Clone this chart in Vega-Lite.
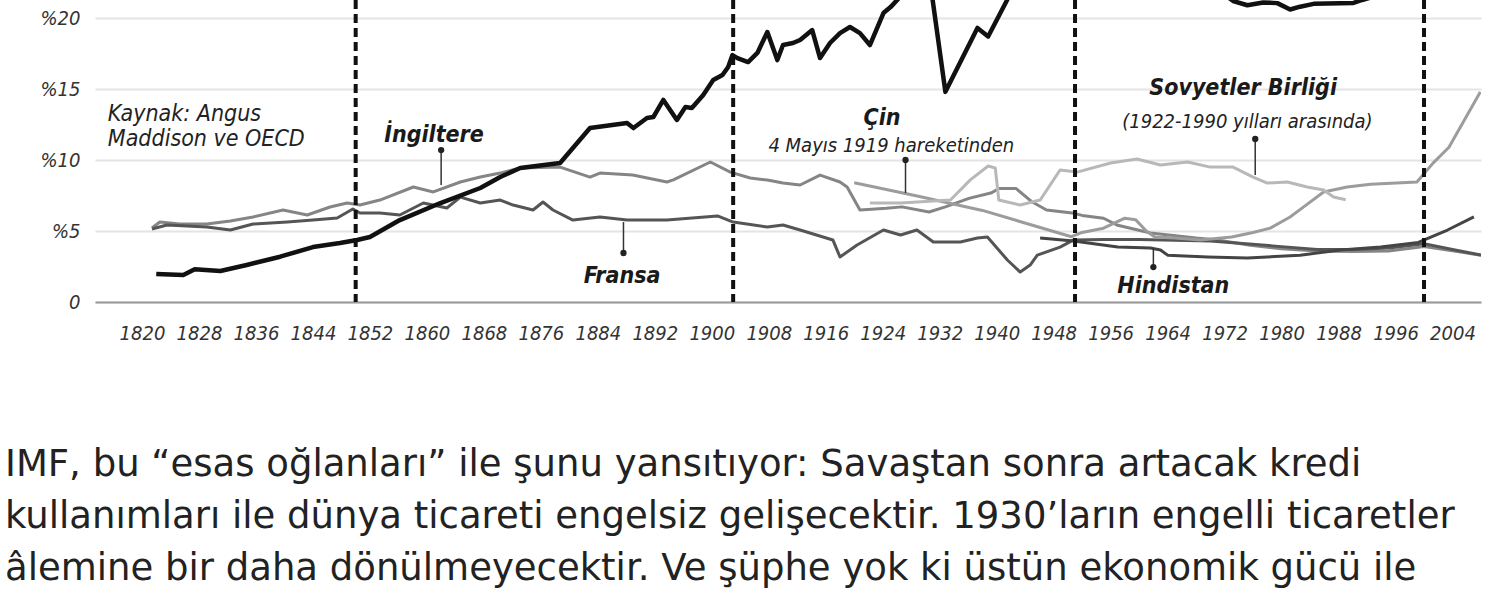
{
  "$schema": "https://vega.github.io/schema/vega-lite/v6.json",
  "width": 1386,
  "height": 302,
  "autosize": {"type": "none"},
  "padding": {"left": 95, "top": 0, "right": 29, "bottom": 297},
  "background": "white",
  "config": {"view": {"stroke": null}, "font": "'DejaVu Sans Condensed', Roboto, sans-serif"},
  "title": {
    "text": ["IMF, bu “esas oğlanları” ile şunu yansıtıyor: Savaştan sonra artacak kredi", "kullanımları ile dünya ticareti engelsiz gelişecektir. 1930’ların engelli ticaretler", "âlemine bir daha dönülmeyecektir. Ve şüphe yok ki üstün ekonomik gücü ile"],
    "orient": "bottom", "anchor": "start", "frame": "group", "align": "left", "baseline": "top",
    "dx": -90, "offset": 104, "font": "DejaVu Sans", "fontSize": 37, "fontWeight": 400, "color": "#222222", "lineHeight": 52
  },
  "datasets": {
    "series": [
      {"country": "ABD", "year": 1822, "share": 1.97}, {"country": "ABD", "year": 1825.8, "share": 1.9}, {"country": "ABD", "year": 1827.4, "share": 2.3}, {"country": "ABD", "year": 1831, "share": 2.18}, {"country": "ABD", "year": 1834.7, "share": 2.61}, {"country": "ABD", "year": 1839.4, "share": 3.19}, {"country": "ABD", "year": 1844, "share": 3.87}, {"country": "ABD", "year": 1847.8, "share": 4.15}, {"country": "ABD", "year": 1850.2, "share": 4.37}, {"country": "ABD", "year": 1852, "share": 4.58}, {"country": "ABD", "year": 1856.2, "share": 5.77}, {"country": "ABD", "year": 1861.9, "share": 6.97}, {"country": "ABD", "year": 1867.5, "share": 8.03}, {"country": "ABD", "year": 1870.3, "share": 8.8}, {"country": "ABD", "year": 1873.1, "share": 9.44}, {"country": "ABD", "year": 1878.7, "share": 9.79}, {"country": "ABD", "year": 1882.9, "share": 12.25}, {"country": "ABD", "year": 1888.1, "share": 12.61}, {"country": "ABD", "year": 1889, "share": 12.25}, {"country": "ABD", "year": 1890.9, "share": 12.96}, {"country": "ABD", "year": 1891.8, "share": 13.03}, {"country": "ABD", "year": 1893.2, "share": 14.23}, {"country": "ABD", "year": 1895.1, "share": 12.82}, {"country": "ABD", "year": 1896.3, "share": 13.73}, {"country": "ABD", "year": 1897.2, "share": 13.66}, {"country": "ABD", "year": 1898.8, "share": 14.58}, {"country": "ABD", "year": 1900.2, "share": 15.63}, {"country": "ABD", "year": 1901.5, "share": 15.99}, {"country": "ABD", "year": 1902.3, "share": 16.55}, {"country": "ABD", "year": 1902.9, "share": 17.39}, {"country": "ABD", "year": 1903.6, "share": 17.18}, {"country": "ABD", "year": 1905.1, "share": 16.9}, {"country": "ABD", "year": 1906.4, "share": 17.54}, {"country": "ABD", "year": 1907.8, "share": 19.01}, {"country": "ABD", "year": 1909.2, "share": 17.04}, {"country": "ABD", "year": 1910, "share": 18.1}, {"country": "ABD", "year": 1911.4, "share": 18.24}, {"country": "ABD", "year": 1912.4, "share": 18.45}, {"country": "ABD", "year": 1914.1, "share": 19.15}, {"country": "ABD", "year": 1915.2, "share": 17.18}, {"country": "ABD", "year": 1916.6, "share": 18.24}, {"country": "ABD", "year": 1918, "share": 18.94}, {"country": "ABD", "year": 1919.4, "share": 19.37}, {"country": "ABD", "year": 1920.8, "share": 18.94}, {"country": "ABD", "year": 1922.2, "share": 18.1}, {"country": "ABD", "year": 1924.1, "share": 20.35}, {"country": "ABD", "year": 1925.1, "share": 20.77}, {"country": "ABD", "year": 1927, "share": 21.8}, {"country": "ABD", "year": 1929, "share": 22.7}, {"country": "ABD", "year": 1931, "share": 21.3}, {"country": "ABD", "year": 1932.8, "share": 14.8}, {"country": "ABD", "year": 1937.3, "share": 19.3}, {"country": "ABD", "year": 1938.8, "share": 18.7}, {"country": "ABD", "year": 1941.5, "share": 21.3}, {"country": "ABD", "year": 1944, "share": 27.5}, {"country": "ABD", "year": 1950, "share": 27.3}, {"country": "ABD", "year": 1960, "share": 24.3}, {"country": "ABD", "year": 1970, "share": 22.4}, {"country": "ABD", "year": 1973.2, "share": 21.2}, {"country": "ABD", "year": 1975.2, "share": 20.9}, {"country": "ABD", "year": 1977.4, "share": 21.1}, {"country": "ABD", "year": 1979.4, "share": 21.05}, {"country": "ABD", "year": 1981.2, "share": 20.6}, {"country": "ABD", "year": 1982.6, "share": 20.8}, {"country": "ABD", "year": 1984.5, "share": 21.0}, {"country": "ABD", "year": 1990.1, "share": 21.06}, {"country": "ABD", "year": 1991.3, "share": 21.27}, {"country": "ABD", "year": 1995, "share": 21.8}, {"country": "ABD", "year": 2000, "share": 22.5}, {"country": "ABD", "year": 2008, "share": 22.0},

      {"country": "İngiltere", "year": 1821.4, "share": 5.21}, {"country": "İngiltere", "year": 1822.5, "share": 5.63}, {"country": "İngiltere", "year": 1825.3, "share": 5.49}, {"country": "İngiltere", "year": 1829.1, "share": 5.49}, {"country": "İngiltere", "year": 1832.4, "share": 5.7}, {"country": "İngiltere", "year": 1835.6, "share": 5.99}, {"country": "İngiltere", "year": 1839.8, "share": 6.48}, {"country": "İngiltere", "year": 1843.2, "share": 6.13}, {"country": "İngiltere", "year": 1846.4, "share": 6.69}, {"country": "İngiltere", "year": 1848.8, "share": 6.97}, {"country": "İngiltere", "year": 1850.6, "share": 6.83}, {"country": "İngiltere", "year": 1853.4, "share": 7.18}, {"country": "İngiltere", "year": 1858.1, "share": 8.1}, {"country": "İngiltere", "year": 1860.9, "share": 7.75}, {"country": "İngiltere", "year": 1864.7, "share": 8.45}, {"country": "İngiltere", "year": 1867.5, "share": 8.8}, {"country": "İngiltere", "year": 1870.3, "share": 9.08}, {"country": "İngiltere", "year": 1873.1, "share": 9.44}, {"country": "İngiltere", "year": 1878.7, "share": 9.5}, {"country": "İngiltere", "year": 1882.9, "share": 8.8}, {"country": "İngiltere", "year": 1884.3, "share": 9.08}, {"country": "İngiltere", "year": 1888.9, "share": 8.94}, {"country": "İngiltere", "year": 1893.7, "share": 8.45}, {"country": "İngiltere", "year": 1894.6, "share": 8.6}, {"country": "İngiltere", "year": 1899.8, "share": 9.86}, {"country": "İngiltere", "year": 1902.6, "share": 9.15}, {"country": "İngiltere", "year": 1905.4, "share": 8.73}, {"country": "İngiltere", "year": 1907.8, "share": 8.59}, {"country": "İngiltere", "year": 1910, "share": 8.38}, {"country": "İngiltere", "year": 1912.4, "share": 8.24}, {"country": "İngiltere", "year": 1915.2, "share": 8.94}, {"country": "İngiltere", "year": 1918, "share": 8.45}, {"country": "İngiltere", "year": 1919, "share": 8.1}, {"country": "İngiltere", "year": 1920.8, "share": 6.48}, {"country": "İngiltere", "year": 1924.5, "share": 6.6}, {"country": "İngiltere", "year": 1926.7, "share": 6.7}, {"country": "İngiltere", "year": 1930.5, "share": 6.34}, {"country": "İngiltere", "year": 1932.8, "share": 6.7}, {"country": "İngiltere", "year": 1936.1, "share": 7.3}, {"country": "İngiltere", "year": 1939.3, "share": 7.7}, {"country": "İngiltere", "year": 1940.3, "share": 8.0}, {"country": "İngiltere", "year": 1942.7, "share": 8.0}, {"country": "İngiltere", "year": 1945, "share": 7.04}, {"country": "İngiltere", "year": 1947, "share": 6.48}, {"country": "İngiltere", "year": 1950.6, "share": 6.27}, {"country": "İngiltere", "year": 1952, "share": 6.1}, {"country": "İngiltere", "year": 1955, "share": 5.9}, {"country": "İngiltere", "year": 1957, "share": 5.4}, {"country": "İngiltere", "year": 1961.6, "share": 4.86}, {"country": "İngiltere", "year": 1968, "share": 4.5}, {"country": "İngiltere", "year": 1971, "share": 4.37}, {"country": "İngiltere", "year": 1975.6, "share": 4.0}, {"country": "İngiltere", "year": 1980, "share": 3.75}, {"country": "İngiltere", "year": 1985, "share": 3.6}, {"country": "İngiltere", "year": 1990, "share": 3.55}, {"country": "İngiltere", "year": 1995, "share": 3.6}, {"country": "İngiltere", "year": 2000, "share": 3.9}, {"country": "İngiltere", "year": 2004, "share": 3.6}, {"country": "İngiltere", "year": 2008, "share": 3.3},

      {"country": "Fransa", "year": 1821.4, "share": 5.14}, {"country": "Fransa", "year": 1823.5, "share": 5.42}, {"country": "Fransa", "year": 1829.1, "share": 5.28}, {"country": "Fransa", "year": 1832.4, "share": 5.07}, {"country": "Fransa", "year": 1835.6, "share": 5.49}, {"country": "Fransa", "year": 1840.4, "share": 5.63}, {"country": "Fransa", "year": 1844, "share": 5.77}, {"country": "Fransa", "year": 1847.4, "share": 5.92}, {"country": "Fransa", "year": 1849.6, "share": 6.55}, {"country": "Fransa", "year": 1850.6, "share": 6.27}, {"country": "Fransa", "year": 1853.4, "share": 6.27}, {"country": "Fransa", "year": 1856.2, "share": 6.13}, {"country": "Fransa", "year": 1859.5, "share": 6.97}, {"country": "Fransa", "year": 1862.8, "share": 6.62}, {"country": "Fransa", "year": 1864.7, "share": 7.39}, {"country": "Fransa", "year": 1867.5, "share": 6.97}, {"country": "Fransa", "year": 1870.3, "share": 7.18}, {"country": "Fransa", "year": 1872.1, "share": 6.83}, {"country": "Fransa", "year": 1874.9, "share": 6.48}, {"country": "Fransa", "year": 1876.3, "share": 7.04}, {"country": "Fransa", "year": 1877.7, "share": 6.48}, {"country": "Fransa", "year": 1880.5, "share": 5.77}, {"country": "Fransa", "year": 1884.3, "share": 5.99}, {"country": "Fransa", "year": 1888.1, "share": 5.77}, {"country": "Fransa", "year": 1893.7, "share": 5.77}, {"country": "Fransa", "year": 1900.8, "share": 6.06}, {"country": "Fransa", "year": 1903, "share": 5.63}, {"country": "Fransa", "year": 1907.8, "share": 5.28}, {"country": "Fransa", "year": 1910, "share": 5.42}, {"country": "Fransa", "year": 1912.4, "share": 5.07}, {"country": "Fransa", "year": 1917, "share": 4.37}, {"country": "Fransa", "year": 1918, "share": 3.17}, {"country": "Fransa", "year": 1920.4, "share": 4.01}, {"country": "Fransa", "year": 1924.1, "share": 5.07}, {"country": "Fransa", "year": 1926.5, "share": 4.72}, {"country": "Fransa", "year": 1928.8, "share": 5.07}, {"country": "Fransa", "year": 1931.1, "share": 4.23}, {"country": "Fransa", "year": 1934.9, "share": 4.23}, {"country": "Fransa", "year": 1937.3, "share": 4.51}, {"country": "Fransa", "year": 1938.7, "share": 4.58}, {"country": "Fransa", "year": 1941.5, "share": 2.96}, {"country": "Fransa", "year": 1943.3, "share": 2.11}, {"country": "Fransa", "year": 1944.7, "share": 2.6}, {"country": "Fransa", "year": 1945.7, "share": 3.3}, {"country": "Fransa", "year": 1948.9, "share": 3.87}, {"country": "Fransa", "year": 1950.8, "share": 4.37}, {"country": "Fransa", "year": 1955, "share": 4.4}, {"country": "Fransa", "year": 1960, "share": 4.4}, {"country": "Fransa", "year": 1965, "share": 4.35}, {"country": "Fransa", "year": 1970, "share": 4.3}, {"country": "Fransa", "year": 1975, "share": 4.1}, {"country": "Fransa", "year": 1980, "share": 3.9}, {"country": "Fransa", "year": 1985, "share": 3.7}, {"country": "Fransa", "year": 1990, "share": 3.7}, {"country": "Fransa", "year": 1995, "share": 3.8}, {"country": "Fransa", "year": 2000, "share": 4.1}, {"country": "Fransa", "year": 2004, "share": 3.7}, {"country": "Fransa", "year": 2008, "share": 3.3},

      {"country": "Çin", "year": 1920, "share": 8.4}, {"country": "Çin", "year": 1929, "share": 7.45}, {"country": "Çin", "year": 1938, "share": 6.45}, {"country": "Çin", "year": 1950.5, "share": 4.6}, {"country": "Çin", "year": 1952, "share": 4.9}, {"country": "Çin", "year": 1955, "share": 5.2}, {"country": "Çin", "year": 1958, "share": 5.9}, {"country": "Çin", "year": 1959.5, "share": 5.8}, {"country": "Çin", "year": 1961, "share": 5.0}, {"country": "Çin", "year": 1962.2, "share": 4.58}, {"country": "Çin", "year": 1965, "share": 4.5}, {"country": "Çin", "year": 1968.6, "share": 4.37}, {"country": "Çin", "year": 1973, "share": 4.58}, {"country": "Çin", "year": 1976, "share": 4.9}, {"country": "Çin", "year": 1978.4, "share": 5.2}, {"country": "Çin", "year": 1981.2, "share": 5.99}, {"country": "Çin", "year": 1983.1, "share": 6.7}, {"country": "Çin", "year": 1985.9, "share": 7.75}, {"country": "Çin", "year": 1989.2, "share": 8.1}, {"country": "Çin", "year": 1992.5, "share": 8.3}, {"country": "Çin", "year": 1999, "share": 8.45}, {"country": "Çin", "year": 2001.3, "share": 9.8}, {"country": "Çin", "year": 2003.5, "share": 10.9}, {"country": "Çin", "year": 2007.9, "share": 14.8},

      {"country": "Sovyetler Birliği", "year": 1922.2, "share": 6.97}, {"country": "Sovyetler Birliği", "year": 1926.5, "share": 6.97}, {"country": "Sovyetler Birliği", "year": 1933.5, "share": 7.18}, {"country": "Sovyetler Birliği", "year": 1936.3, "share": 8.6}, {"country": "Sovyetler Birliği", "year": 1938.8, "share": 9.58}, {"country": "Sovyetler Birliği", "year": 1939.8, "share": 9.44}, {"country": "Sovyetler Birliği", "year": 1940.3, "share": 7.18}, {"country": "Sovyetler Birliği", "year": 1943.3, "share": 6.83}, {"country": "Sovyetler Birliği", "year": 1946.1, "share": 7.18}, {"country": "Sovyetler Birliği", "year": 1948.9, "share": 9.3}, {"country": "Sovyetler Birliği", "year": 1951.3, "share": 9.15}, {"country": "Sovyetler Birliği", "year": 1956, "share": 9.79}, {"country": "Sovyetler Birliği", "year": 1959.7, "share": 10.07}, {"country": "Sovyetler Birliği", "year": 1963, "share": 9.65}, {"country": "Sovyetler Birliği", "year": 1966.8, "share": 9.86}, {"country": "Sovyetler Birliği", "year": 1970, "share": 9.5}, {"country": "Sovyetler Birliği", "year": 1973.2, "share": 9.5}, {"country": "Sovyetler Birliği", "year": 1976, "share": 8.8}, {"country": "Sovyetler Birliği", "year": 1978, "share": 8.38}, {"country": "Sovyetler Birliği", "year": 1980.8, "share": 8.45}, {"country": "Sovyetler Birliği", "year": 1983.6, "share": 8.1}, {"country": "Sovyetler Birliği", "year": 1985.9, "share": 7.89}, {"country": "Sovyetler Birliği", "year": 1987.3, "share": 7.39}, {"country": "Sovyetler Birliği", "year": 1989, "share": 7.2},

      {"country": "Hindistan", "year": 1946.1, "share": 4.5}, {"country": "Hindistan", "year": 1950.8, "share": 4.3}, {"country": "Hindistan", "year": 1957, "share": 3.87}, {"country": "Hindistan", "year": 1961.6, "share": 3.8}, {"country": "Hindistan", "year": 1963, "share": 3.66}, {"country": "Hindistan", "year": 1964, "share": 3.3}, {"country": "Hindistan", "year": 1969.6, "share": 3.17}, {"country": "Hindistan", "year": 1975.2, "share": 3.1}, {"country": "Hindistan", "year": 1978, "share": 3.17}, {"country": "Hindistan", "year": 1982.6, "share": 3.3}, {"country": "Hindistan", "year": 1988.3, "share": 3.66}, {"country": "Hindistan", "year": 1993.9, "share": 3.87}, {"country": "Hindistan", "year": 1999.2, "share": 4.2}, {"country": "Hindistan", "year": 2003.3, "share": 5.07}, {"country": "Hindistan", "year": 2007, "share": 5.99}
    ],
    "eras": [{"year": 1850}, {"year": 1903}, {"year": 1951}, {"year": 2000}],
    "callouts": [
      {"name": "İngiltere", "year": 1862, "share": 10.7, "share2": 8.24},
      {"name": "Fransa", "year": 1887.6, "share": 3.45, "share2": 5.63},
      {"name": "Çin", "year": 1927.2, "share": 10.0, "share2": 7.68},
      {"name": "Sovyetler Birliği", "year": 1976.3, "share": 11.48, "share2": 8.94},
      {"name": "Hindistan", "year": 1962, "share": 2.46, "share2": 3.8}
    ],
    "names": [
      {"label": "İngiltere", "year": 1861, "share": 11.27},
      {"label": "Fransa", "year": 1887.4, "share": 1.34},
      {"label": "Çin", "year": 1923.9, "share": 12.46},
      {"label": "Sovyetler Birliği", "year": 1974.6, "share": 14.58},
      {"label": "Hindistan", "year": 1964.8, "share": 0.63}
    ],
    "notes": [
      {"label": "4 Mayıs 1919 hareketinden", "year": 1925.2, "share": 10.56},
      {"label": "(1922-1990 yılları arasında)", "year": 1975.2, "share": 12.25}
    ],
    "source": [{"label": "Kaynak: Angus\nMaddison ve OECD", "year": 1815.2, "share": 12.75}]
  },
  "layer": [
    {
      "data": {"name": "series"},
      "transform": [{"filter": "datum.country != 'ABD'"}],
      "mark": {"type": "line", "strokeWidth": 3, "clip": true, "strokeJoin": "round"},
      "encoding": {
        "x": {"field": "year", "type": "quantitative", "scale": {"domain": [1813.4, 2008], "nice": false, "zero": false},
          "axis": {"values": [1820, 1828, 1836, 1844, 1852, 1860, 1868, 1876, 1884, 1892, 1900, 1908, 1916, 1924, 1932, 1940, 1948, 1956, 1964, 1972, 1980, 1988, 1996, 2004],
            "format": "d", "title": null, "grid": false, "ticks": false, "domain": true, "domainColor": "#9a9a9a", "domainWidth": 2,
            "labelFont": "'DejaVu Sans Condensed', Roboto, sans-serif", "labelFontStyle": "italic", "labelFontSize": 20, "labelColor": "#333333", "labelPadding": 21, "labelOverlap": false, "labelFlush": false}},
        "y": {"field": "share", "type": "quantitative", "scale": {"domain": [0, 21.27], "nice": false},
          "axis": {"values": [0, 5, 10, 15, 20], "labelExpr": "datum.value == 0 ? '0' : '%' + datum.value", "title": null,
            "grid": true, "gridColor": "#e4e4e4", "gridWidth": 2, "domain": false, "ticks": false,
            "labelFont": "'DejaVu Sans Condensed', Roboto, sans-serif", "labelFontStyle": "italic", "labelFontSize": 20, "labelColor": "#333333", "labelPadding": 15}},
        "color": {"field": "country", "type": "nominal", "legend": null,
          "scale": {"domain": ["İngiltere", "Fransa", "Çin", "Sovyetler Birliği", "Hindistan"], "range": ["#858585", "#555555", "#9c9c9c", "#b8b8b8", "#444444"]}},
        "detail": {"field": "country"}
      }
    },
    {
      "data": {"name": "eras"},
      "mark": {"type": "rule", "color": "#111111", "strokeWidth": 4, "strokeDash": [9, 5]},
      "encoding": {"x": {"field": "year", "type": "quantitative"}}
    },
    {
      "data": {"name": "series"},
      "transform": [{"filter": "datum.country == 'ABD'"}],
      "mark": {"type": "line", "strokeWidth": 4.5, "clip": true, "color": "#111111", "strokeJoin": "round"},
      "encoding": {"x": {"field": "year", "type": "quantitative"}, "y": {"field": "share", "type": "quantitative"}}
    },
    {
      "data": {"name": "callouts"},
      "mark": {"type": "rule", "color": "#333333", "strokeWidth": 1.5},
      "encoding": {"x": {"field": "year", "type": "quantitative"}, "y": {"field": "share", "type": "quantitative"}, "y2": {"field": "share2"}}
    },
    {
      "data": {"name": "callouts"},
      "mark": {"type": "point", "filled": true, "color": "#222222", "size": 40, "opacity": 1},
      "encoding": {"x": {"field": "year", "type": "quantitative"}, "y": {"field": "share", "type": "quantitative"}}
    },
    {
      "data": {"name": "names"},
      "mark": {"type": "text", "font": "'DejaVu Sans Condensed', Roboto, sans-serif", "fontWeight": "bold", "fontStyle": "italic", "fontSize": 23, "color": "#1a1a1a", "align": "center", "baseline": "alphabetic"},
      "encoding": {"x": {"field": "year", "type": "quantitative"}, "y": {"field": "share", "type": "quantitative"}, "text": {"field": "label"}}
    },
    {
      "data": {"name": "notes"},
      "mark": {"type": "text", "font": "'DejaVu Sans Condensed', Roboto, sans-serif", "fontStyle": "italic", "fontSize": 20, "color": "#222222", "align": "center", "baseline": "alphabetic"},
      "encoding": {"x": {"field": "year", "type": "quantitative"}, "y": {"field": "share", "type": "quantitative"}, "text": {"field": "label"}}
    },
    {
      "data": {"name": "source"},
      "mark": {"type": "text", "font": "'DejaVu Sans Condensed', Roboto, sans-serif", "fontStyle": "italic", "fontSize": 23, "color": "#222222", "align": "left", "baseline": "alphabetic", "lineBreak": "\n", "lineHeight": 25},
      "encoding": {"x": {"field": "year", "type": "quantitative"}, "y": {"field": "share", "type": "quantitative"}, "text": {"field": "label"}}
    }
  ]
}
